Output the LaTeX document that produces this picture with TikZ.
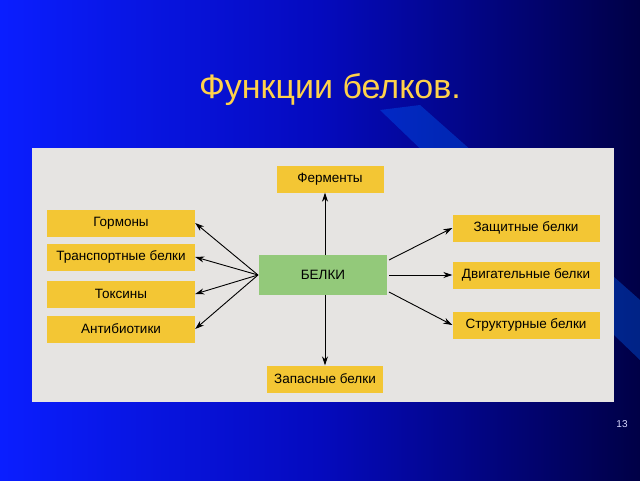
\documentclass[tikz,border=0pt]{standalone}
\usepackage{fontspec}
\setmainfont{Liberation Sans}
\usetikzlibrary{arrows.meta}
\definecolor{boxy}{HTML}{F3C634}
\definecolor{boxg}{HTML}{93C97A}
\definecolor{panel}{HTML}{E6E4E2}
\definecolor{titley}{HTML}{FFD24A}
\begin{document}
\begin{tikzpicture}[x=1pt,y=-1pt,
  fbox/.style={fill=boxy,draw=none,minimum height=27pt,font=\fontsize{13.5}{15}\selectfont,inner sep=2pt},
  arr/.style={-{Stealth[length=9pt,width=6pt]},line width=0.9pt,black}]
\useasboundingbox (0,0) rectangle (640,480);
\shade[left color={rgb,255:red,10;green,30;blue,255}, right color={rgb,255:red,0;green,0;blue,70}, middle color={rgb,255:red,5;green,10;blue,190}] (0,0) rectangle (640,480);
\fill[blue!60!cyan, opacity=0.35] (380,110) -- (420,105) -- (640,300) -- (640,360) -- cycle;
\node[text=titley, font=\fontsize{34}{40}\selectfont] (title) at (330,90) {Функции белков.};
\node[text=white!85!blue, font=\fontsize{10}{12}\selectfont] (pg) at (622,424) {13};
\fill[panel] (32,148) rectangle (614,402);
\node[fbox,minimum width=148pt] (g) at (121,223) {Гормоны};
\node[fbox,minimum width=148pt] (t) at (121,257) {Транспортные белки};
\node[fbox,minimum width=148pt] (x) at (121,294) {Токсины};
\node[fbox,minimum width=148pt] (a) at (121,329) {Антибиотики};
\node[fbox,minimum width=107pt] (f) at (330,179) {Ферменты};
\node[fbox,minimum width=116pt] (z) at (325,379) {Запасные белки};
\node[fbox,minimum width=147pt] (d) at (526,228) {Защитные белки};
\node[fbox,minimum width=147pt] (m) at (526,275) {Двигательные белки};
\node[fbox,minimum width=147pt] (s) at (526,325) {Структурные белки};
\node[fill=boxg,minimum width=128pt,minimum height=40pt,font=\fontsize{13.5}{15}\selectfont] (b) at (323,275) {БЕЛКИ};
\coordinate (bl) at (258,275);
\coordinate (br) at (389,275);
\draw[arr] (bl) -- (g.east);
\draw[arr] (bl) -- (t.east);
\draw[arr] (bl) -- (x.east);
\draw[arr] (bl) -- (a.east);
\draw[arr] (325,255) -- (f.south -| 325,0);
\draw[arr] (325,295) -- (z.north);
\draw[arr] (389,260) -- (d.west);
\draw[arr] (br) -- (m.west);
\draw[arr] (389,292) -- (s.west);
\end{tikzpicture}
\end{document}
